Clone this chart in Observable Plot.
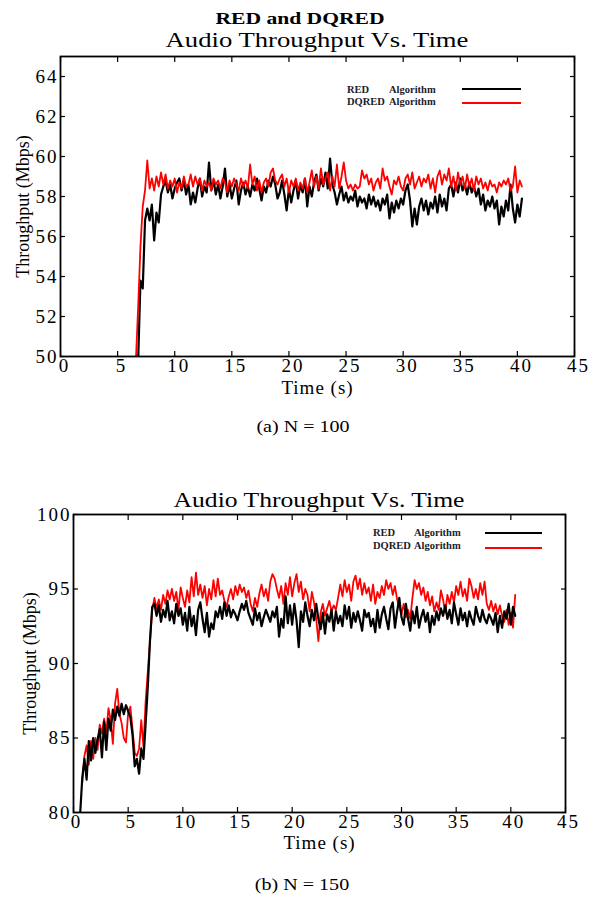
<!DOCTYPE html>
<html><head><meta charset="utf-8">
<script src="https://cdn.jsdelivr.net/npm/d3@7"></script>
<script src="https://cdn.jsdelivr.net/npm/@observablehq/plot@0.6"></script>
<style>
html,body{margin:0;padding:0;background:#fff;}
#wrap{position:relative;width:595px;height:899px;overflow:hidden;font-family:"Liberation Serif","Times New Roman",serif;color:#000;}
.abs{position:absolute;white-space:nowrap;line-height:1;}
.ctr{transform-origin:50% 50%;}
.leg{font-weight:bold;font-size:10.5px;color:#1c1c2a;}
.lline{position:absolute;height:2px;}
#wrap svg{position:absolute;left:0;background:transparent !important;}
</style></head>
<body><div id="wrap"></div>
<script>
// ---------------- data ----------------
const timeStep = 0.2;
const xTicks = [0, 5, 10, 15, 20, 25, 30, 35, 40, 45];
const yTicksA = [50, 52, 54, 56, 58, 60, 62, 64];
const yTicksB = [80, 85, 90, 95, 100];
const seriesNames = ["RED", "DQRED"];
const captions = ["(a) N = 100", "(b) N = 150"];

// Chart (a) N = 100 — RED (black), starts at t = 6.8 s
const redA_start = 6.8;
const redA = [
  49.8, 53.8, 53.4, 56.8, 57.4, 56.8, 57.6, 55.8, 57.2, 56.7,
  58.1, 58.5, 58.8, 58.2, 58.6, 57.9, 58.4, 58.7, 58.9, 58.3,
  58.8, 58.1, 58.6, 57.6, 58.2, 57.7, 58.4, 58.9, 58.0, 58.5,
  58.2, 59.7, 58.3, 58.8, 58.1, 58.6, 57.9, 58.5, 59.4, 58.0,
  58.6, 57.9, 58.4, 58.8, 57.6, 58.3, 58.7, 58.1, 58.5, 58.0,
  58.6, 58.3, 58.9, 58.4, 57.8, 58.5, 58.2, 58.8, 58.5, 59.0,
  58.6, 57.9, 58.2, 58.8, 58.1, 57.3, 58.4, 57.7, 58.3, 58.8,
  57.9, 58.6, 58.2, 58.9, 57.5, 58.5, 58.0, 58.7, 59.1, 58.3,
  58.9, 58.5, 59.2, 58.4, 59.9, 58.6, 58.2, 57.6, 58.1, 58.5,
  57.8, 58.2, 57.7, 58.0, 57.8, 58.3, 57.5, 58.0, 57.7, 57.9,
  57.4, 58.1, 57.6, 58.0, 57.5, 57.8, 57.3, 57.9, 57.6, 58.1,
  56.9, 57.7, 57.2, 57.8, 57.4, 57.9, 57.6, 58.3, 58.6, 57.8,
  56.5, 57.4, 56.6, 57.5, 57.9, 57.3, 57.8, 57.1, 57.7, 57.4,
  58.0, 57.2, 58.1, 57.5, 57.9, 57.3, 58.4, 58.6, 58.0, 58.7,
  58.2, 58.9, 58.3, 58.6, 58.1, 58.7, 58.2, 58.5, 58.0, 58.4,
  57.6, 58.1, 57.3, 57.8, 57.5, 58.0, 57.4, 57.8, 56.6, 57.5,
  57.0, 57.8, 57.3, 58.6, 57.4, 56.7, 57.6, 57.0, 57.9
];
// Chart (a) N = 100 — DQRED (red), starts at t = 6.6 s
const dqA_start = 6.6;
const dqA = [
  49.8, 52.5, 55.5, 57.5, 58.3, 59.8, 58.4, 58.9, 58.3, 59.0,
  58.5, 59.2, 58.6, 59.1, 58.4, 58.8, 58.5, 58.9, 58.2, 58.7,
  58.4, 59.0, 58.5, 58.6, 59.1, 58.5, 59.0, 58.6, 58.9, 58.3,
  58.8, 58.5, 58.7, 58.3, 58.9, 58.6, 58.8, 58.4, 58.9, 58.7,
  58.2, 58.8, 58.5, 58.9, 58.6, 58.3, 58.9, 58.5, 58.8, 58.4,
  59.6, 58.6, 59.0, 58.3, 58.8, 58.2, 58.7, 58.9, 58.5, 59.2,
  59.4, 58.8, 58.6, 58.9, 59.1, 58.5, 58.9, 58.2, 58.8, 58.5,
  58.9, 58.3, 58.7, 58.4, 58.9, 58.2, 58.7, 59.3, 58.5, 59.0,
  58.4, 59.4, 58.6, 58.9, 59.2, 58.3, 59.0, 58.5, 59.6, 58.4,
  59.0, 59.7, 58.8, 58.4, 58.6, 58.3, 58.6, 58.4, 58.5, 59.3,
  58.9, 59.1, 58.6, 58.9, 58.3, 58.7, 58.9, 58.4, 59.4, 58.8,
  59.0, 58.5, 58.1, 58.8, 58.6, 59.0, 58.5, 58.3, 58.9, 59.1,
  58.6, 59.2, 58.4, 58.7, 59.0, 58.5, 58.9, 58.7, 59.1, 58.4,
  58.9, 58.2, 59.0, 59.3, 58.6, 59.1, 58.8, 59.4, 58.5, 59.0,
  58.3, 59.2, 58.6, 59.0, 58.4, 59.1, 58.5, 58.9, 58.3, 59.0,
  58.6, 58.9, 58.4, 58.7, 58.3, 58.8, 58.5, 58.6, 58.2, 58.7,
  58.5, 58.8, 58.6, 58.9, 58.3, 58.5, 59.5, 58.2, 58.8, 58.5
];
// Chart (b) N = 150 — RED (black), starts at t = 0.6 s
const redB_start = 0.6;
const redB = [
  79.8, 82.3, 83.6, 82.2, 84.8, 83.5, 85.0, 84.0, 84.9, 85.6,
  83.7, 86.1, 84.2, 86.3, 85.5, 86.9, 86.2, 87.1, 86.5, 87.3,
  86.6, 87.2, 86.8, 86.4, 85.2, 83.1, 83.6, 82.6, 84.3, 83.6,
  86.0, 88.5, 91.6, 93.8, 94.0, 93.2, 93.9, 92.8, 93.6, 93.1,
  94.2, 92.9, 93.5, 92.7, 94.0, 93.2, 93.7, 92.6, 93.4, 92.2,
  93.8, 92.5, 93.2, 91.9, 93.6, 94.1, 93.0, 92.1, 93.4, 91.8,
  92.7, 92.3, 93.5, 93.1, 93.8, 93.0, 94.1, 93.2, 93.9, 93.1,
  93.6, 93.3, 92.9, 93.5, 94.0, 93.6, 94.2, 93.4, 93.0, 92.6,
  93.7, 92.9, 93.4, 92.5, 93.1, 93.6, 93.2, 92.8, 93.5, 93.1,
  93.8, 91.8, 93.0, 92.4, 94.5, 92.7, 93.9, 92.6, 94.0, 92.9,
  91.1, 93.5, 92.8, 94.1, 93.2, 92.5, 93.6, 92.9, 94.0, 93.0,
  92.3, 93.4, 92.0, 93.3, 92.8, 93.6, 92.2, 93.5, 92.7, 93.2,
  92.5, 93.9, 93.0, 93.8, 92.4, 93.4, 92.8, 93.5, 92.9, 92.2,
  93.6, 93.1, 93.4, 92.5, 93.0, 92.1, 93.6, 92.4, 93.3, 93.8,
  93.0, 92.3, 93.7, 94.1, 92.4, 93.5, 94.4, 93.1, 92.6, 94.0,
  93.0, 92.2, 93.5, 92.7, 93.8, 92.4, 93.1, 93.6, 92.8, 93.4,
  92.1, 93.2, 92.6, 93.5, 92.9, 93.7, 93.2, 93.9, 93.0, 93.6,
  92.7, 94.1, 93.3, 92.6, 93.7, 92.9, 93.4, 92.5, 93.5, 93.0,
  92.6, 93.8, 93.2, 92.8, 93.6, 93.0, 92.7, 93.3, 93.0, 92.6,
  93.4, 92.1, 93.2, 92.4, 93.5, 93.0, 94.0, 92.6, 93.8, 93.2
];
// Chart (b) N = 150 — DQRED (red), starts at t = 0.8 s
const dqB_start = 0.8;
const dqB = [
  82.0, 83.8, 84.5, 83.2, 84.8, 83.6, 85.0, 84.2, 85.9, 85.3,
  86.3, 85.4, 87.0, 86.2, 84.6, 87.3, 88.3, 86.6, 86.0, 85.0,
  84.7, 86.7, 87.1, 85.6, 84.0, 83.8, 84.3, 86.2, 84.4, 87.5,
  89.5, 91.5, 93.6, 94.4, 93.7, 94.3, 93.6, 94.6, 94.0, 94.9,
  94.3, 95.0, 94.2, 94.8, 93.6, 95.1, 94.4, 93.8, 94.9, 94.1,
  95.8, 94.5, 96.1, 94.6, 95.3, 94.4, 95.2, 93.9, 95.0, 94.3,
  95.6, 94.5, 95.7, 94.6, 94.9, 94.2, 93.8, 94.5, 95.0, 94.3,
  95.2, 94.6, 95.3, 94.8, 95.1, 94.4, 94.9, 94.0, 93.5, 94.4,
  93.8, 94.7, 95.3, 94.5, 95.0, 94.2, 95.5, 96.0, 95.7, 95.0,
  94.4, 95.2, 94.0, 95.4, 94.6, 95.8, 94.5, 95.4, 96.0, 94.8,
  95.5, 94.3, 95.0, 94.6, 93.5, 94.8, 94.1, 93.0, 91.5, 93.4,
  94.0, 93.2, 93.7, 94.2, 93.5, 93.9, 93.6, 94.4, 95.3, 94.5,
  95.6, 94.8, 95.3, 94.2, 95.5, 95.9, 95.0, 95.7, 94.6, 95.4,
  94.7, 95.1, 94.2, 95.3, 94.0, 94.8, 94.4, 95.2, 94.6, 95.6,
  95.0, 95.4, 94.6, 95.2, 94.3, 93.8, 93.3, 94.0, 93.1, 93.6,
  93.0, 94.4, 95.6, 95.0, 95.4, 94.6, 95.1, 94.2, 94.8, 93.9,
  94.5, 93.5, 94.1, 93.6, 94.9, 94.3, 93.4, 94.6, 94.0, 94.8,
  94.1, 95.2, 94.6, 95.5, 94.5, 95.0, 94.2, 95.7, 95.2, 94.4,
  95.0, 94.3, 95.4, 94.6, 95.5, 94.0, 93.6, 94.2, 93.5, 94.0,
  93.3, 93.9, 93.2, 92.8, 93.6, 92.6, 93.4, 92.4, 94.6
];

// -------------- helpers --------------
const toRows = (vals, start) => vals.map((v, i) => ({t: +(start + i * timeStep).toFixed(2), v}));
const wrap = document.getElementById("wrap");
function addText(txt, left, top, size, extra = "", cls = "abs") {
  const d = document.createElement("div");
  d.className = cls;
  d.textContent = txt;
  d.style.cssText = `left:${left}px;top:${top}px;font-size:${size}px;${extra}`;
  wrap.appendChild(d);
  return d;
}
function addCentered(txt, cx, top, size, sx, extra = "") {
  return addText(txt, cx, top, size, `transform:translateX(-50%) scaleX(${sx});${extra}`, "abs ctr");
}
function addLine(left, top, w, color) {
  const d = document.createElement("div");
  d.className = "lline";
  d.style.cssText = `left:${left}px;top:${top}px;width:${w}px;background:${color};`;
  wrap.appendChild(d);
}

function makeChart({black, red, yDomain, yTicks, mL, mR, mT, mB, yLabelOffset, xLabelOffset, xTextDx, redOnTop}) {
  const lineBlack = Plot.line(black, {x: "t", y: "v", stroke: "#000", strokeWidth: 2.2, clip: true});
  const lineRed = Plot.line(red, {x: "t", y: "v", stroke: "#ff0000", strokeWidth: 1.8, clip: true});
  const svg = Plot.plot({
    width: 595, height: 400,
    marginLeft: mL, marginRight: mR, marginTop: mT, marginBottom: mB,
    style: {fontFamily: "'Liberation Serif', 'Times New Roman', serif", fontSize: "19px", color: "#000", background: "transparent", overflow: "visible"},
    x: {domain: [0, 45]},
    y: {domain: yDomain},
    marks: [
      ...(redOnTop ? [lineBlack, lineRed] : [lineRed, lineBlack]),
      Plot.axisX(xTicks, {anchor: "bottom", tickSize: 0, tickPadding: 2, fontSize: 19, dx: xTextDx, label: null}),
      Plot.axisX({anchor: "bottom", ticks: [], label: "Time (s)", labelAnchor: "center", labelOffset: xLabelOffset, labelArrow: false, tickSize: 0}),
      Plot.axisX(xTicks, {anchor: "bottom", tickSize: -5, text: null, label: null, strokeWidth: 1.2}),
      Plot.axisX(xTicks, {anchor: "top", tickSize: -5, text: null, label: null, strokeWidth: 1.2}),
      Plot.axisY(yTicks, {anchor: "left", tickSize: 0, tickPadding: 2, fontSize: 19, label: "Throughput (Mbps)", labelAnchor: "center", labelOffset: yLabelOffset, labelArrow: false}),
      Plot.axisY(yTicks, {anchor: "left", tickSize: -5, text: null, label: null, strokeWidth: 1.2}),
      Plot.axisY(yTicks, {anchor: "right", tickSize: -5, text: null, label: null, strokeWidth: 1.2}),
      Plot.frame({stroke: "#000", strokeWidth: 1.8})
    ]
  });
  // the reference typeface is set wide: widen the horizontal texts a little
  d3.select(svg).selectAll('g[aria-label$="tick label"]').style("letter-spacing", "2px");
  d3.select(svg).selectAll('g[aria-label="x-axis label"]').style("letter-spacing", "1px");
  d3.select(svg).selectAll('g[aria-label="y-axis label"]').style("font-size", "18px");
  return svg;
}

// -------------- chart (a) --------------
const svgA = makeChart({
  black: toRows(redA, redA_start), red: toRows(dqA, dqA_start),
  yDomain: [50, 65], yTicks: yTicksA,
  mL: 60, mR: 21, mT: 56, mB: 44, yLabelOffset: 44, xLabelOffset: 37, xTextDx: 4, redOnTop: true
});
svgA.style.top = "0px";
wrap.appendChild(svgA);

// -------------- chart (b) --------------
const svgB = makeChart({
  black: toRows(redB, redB_start), red: toRows(dqB, dqB_start),
  yDomain: [80, 100], yTicks: yTicksB,
  mL: 73, mR: 30, mT: 56, mB: 46, yLabelOffset: 50, xLabelOffset: 36, xTextDx: 3, redOnTop: false
});
svgB.style.top = "458px";
wrap.appendChild(svgB);

// -------------- titles, captions --------------
addCentered("RED and DQRED", 300, 10, 17, 1.27, "font-weight:bold;");
addCentered("Audio Throughput Vs. Time", 317, 30, 21, 1.27);
addCentered("Audio Throughput Vs. Time", 319, 490, 21, 1.22);
addCentered(captions[0], 303, 418, 17, 1.18);
addCentered(captions[1], 302, 876, 17, 1.18);

// -------------- legends --------------
function legend(nameX, algX, row1Top, row2Top, lineX, lineW, line1Y, line2Y) {
  addText(seriesNames[0], nameX, row1Top, 10.5, "", "abs leg");
  addText("Algorithm", algX, row1Top, 10.5, "", "abs leg");
  addText(seriesNames[1], nameX, row2Top, 10.5, "", "abs leg");
  addText("Algorithm", algX, row2Top, 10.5, "", "abs leg");
  addLine(lineX, line1Y, lineW, "#000");
  addLine(lineX, line2Y, lineW, "#ff0000");
}
legend(347, 389, 85, 97, 462, 59, 88, 102);
legend(373, 414, 528, 541, 485, 57, 532, 547);
</script>
</body></html>
